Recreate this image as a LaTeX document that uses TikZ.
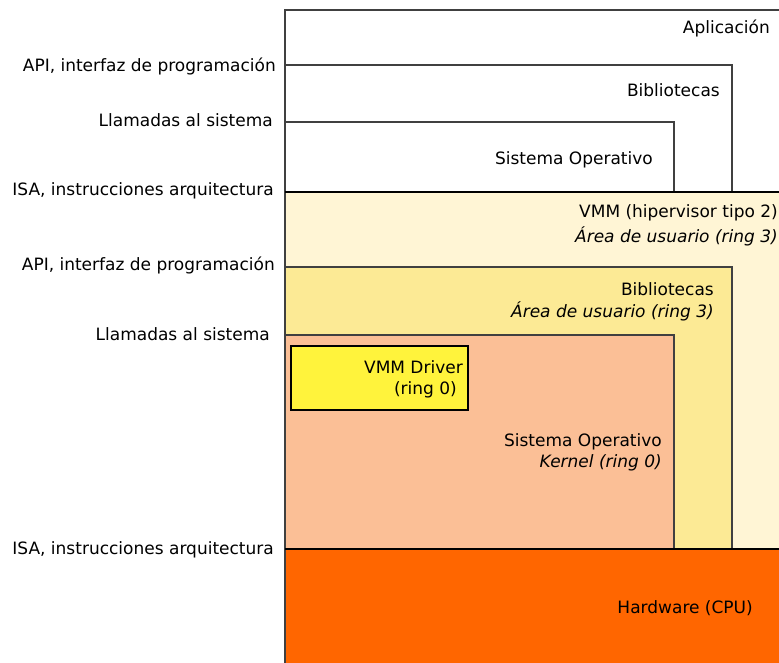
\documentclass[tikz,border=0pt]{standalone}
\usepackage{fontspec}
\setmainfont{DejaVu Sans}
\usepackage{xcolor}
\usetikzlibrary{positioning}
\definecolor{vmmfill}{HTML}{FFF5D5}
\definecolor{libfill}{HTML}{FCEA95}
\definecolor{osfill}{HTML}{FBBF96}
\definecolor{drvfill}{HTML}{FFF33C}
\definecolor{hwfill}{HTML}{FF6600}
\definecolor{edge}{HTML}{404040}
\tikzset{
  layer/.style={draw=edge, line width=1.2pt},
  split/.style={draw=black, line width=1.7pt},
  txt/.style={anchor=base east, inner sep=0pt, font=\fontsize{17}{20}\selectfont},
  itxt/.style={txt, font=\fontsize{17}{20}\selectfont\itshape},
}
\begin{document}
\begin{tikzpicture}[x=1pt, y=-1pt]
\useasboundingbox (0,0) rectangle (779,663);
\clip (0,0) rectangle (779,663);

% Host layers
\fill[vmmfill] (285,192) rectangle (800,549);
\draw[layer] (800,192) -- (285,192) -- (285,549);
\draw[layer, fill=libfill] (285,267) rectangle (732,549);
\draw[layer, fill=osfill] (285,335) rectangle (674,549);
\draw[black, line width=1.2pt, fill=drvfill] (291,346) rectangle (468,410);
\fill[hwfill] (285,549) rectangle (800,700);
\draw[layer] (285,549) -- (285,700);

% Guest layers
\draw[layer] (800,10) -- (285,10) -- (285,192);
\draw[layer] (285,65) rectangle (732,192);
\draw[layer] (285,122) rectangle (674,192);

% Boundaries
\draw[split] (285,192) -- (800,192);
\draw[split] (285,549) -- (800,549);

% Layer names
\node[txt] (app) at (770,34) {Aplicación};
\node[txt] (glib) at (720,97) {Bibliotecas};
\node[txt] (gos) at (653,165) {Sistema Operativo};
\node[txt] (vmm) at (778,218) {VMM (hipervisor tipo 2)};
\node[itxt] (vmmring) at (778,243) {Área de usuario (ring 3)};
\node[txt] (hlib) at (714,295) {Bibliotecas};
\node[itxt] (hlibring) at (714,317) {Área de usuario (ring 3)};
\node[txt] (drv) at (463,373) {VMM Driver};
\node[txt] (drvring) at (457,394) {(ring 0)};
\node[txt] (hos) at (662,446) {Sistema Operativo};
\node[itxt] (hosring) at (662,467) {Kernel (ring 0)};
\node[txt] (hw) at (753,613) {Hardware (CPU)};

% Interfaces
\foreach \x/\y/\t [count=\i] in {276/71.7/{API, interfaz de programación},
    273/127/{Llamadas al sistema},
    274/196/{ISA, instrucciones arquitectura},
    275/270/{API, interfaz de programación},
    270/340/{Llamadas al sistema},
    274/554/{ISA, instrucciones arquitectura}} {
  \node[txt] (if\i) at (\x,\y) {\t};
}

\end{tikzpicture}
\end{document}
